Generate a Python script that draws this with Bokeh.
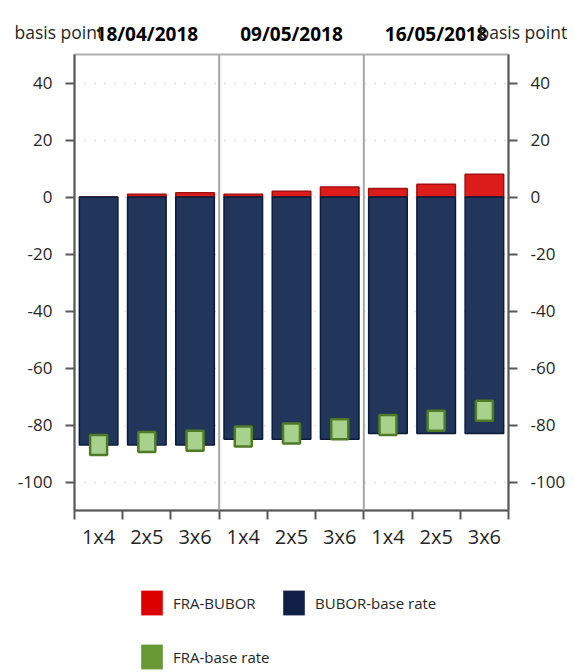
from bokeh.plotting import figure
from bokeh.layouts import column
from bokeh.models import (Range1d, FixedTicker, LinearAxis, Span, Legend,
                          LegendItem, ColumnDataSource)
from bokeh.core.properties import value
from bokeh.embed import file_html
from bokeh.resources import INLINE

# ---- data ----
dates = ["18/04/2018", "09/05/2018", "16/05/2018"]
tenors = ["1x4", "2x5", "3x6"]
bubor_base = [-87, -87, -87, -85, -85, -85, -83, -83, -83]
fra_bubor = [0, 1, 1.5, 1, 2, 3.5, 3, 4.5, 8]
fra_base = [-87, -86, -85.5, -84, -83, -81.5, -80, -78.5, -75]
y_ticks = [-100, -80, -60, -40, -20, 0, 20, 40]
series_names = ["FRA-BUBOR", "BUBOR-base rate", "FRA-base rate"]
axis_title = "basis point"

labels = [t for d in dates for t in tenors]
n = len(labels)
xs = [i + 0.5 for i in range(n)]
zeros = [0] * n
src = ColumnDataSource(dict(x=xs, base=bubor_base, spread=fra_bubor, fra=fra_base, zero=zeros))

FONT = "Open Sans"
AX = "#595959"
W = 575
TOPH = 50
LEFT, FW, TOP, FH = 74, 434, 54 - TOPH, 456
RIGHT = W - LEFT - FW
PX = FW / n  # pixels per category

# ---------------- main chart ----------------
p = figure(x_range=Range1d(0, n), y_range=Range1d(-110, 50),
           output_backend="svg", toolbar_location=None,
           frame_width=FW, frame_height=FH, frame_align=False,
           min_border_left=LEFT, min_border_right=RIGHT, min_border_top=TOP, min_border_bottom=50)
p.outline_line_color = "#b0b0b0"
p.outline_line_width = 2

p.xgrid.grid_line_color = None
p.ygrid.ticker = FixedTicker(ticks=y_ticks)
p.ygrid.grid_line_color = "#bfbfbf"
p.ygrid.grid_line_dash = "1 9"
p.ygrid.grid_line_width = 1.5

p.vbar(x="x", bottom="zero", top="spread", width=0.8, source=src,
       fill_color="#dd1c1c", line_color="#a31010", line_width=1.5)
p.vbar(x="x", bottom="zero", top="base", width=0.8, source=src,
       fill_color="#22355a", line_color="#0e1a3a", line_width=1.5)
p.rect(x="x", y="fra", width=17, height=20, width_units="screen", height_units="screen",
       source=src, fill_color="#a9d18e", line_color="#4f7a28", line_width=2.5)

for loc in [3, 6]:
    p.add_layout(Span(location=loc, dimension="height", line_color="#a6a6a6", line_width=2))

def style_y(ax):
    ax.ticker = FixedTicker(ticks=y_ticks)
    ax.major_label_overrides = {t: str(t) for t in y_ticks}
    ax.axis_line_color = AX
    ax.axis_line_width = 2
    ax.major_tick_line_color = AX
    ax.major_tick_line_width = 2
    ax.major_tick_in = 0
    ax.major_tick_out = 9
    ax.minor_tick_line_color = None
    ax.major_label_standoff = 13
    ax.major_label_text_font = FONT
    ax.major_label_text_font_size = "17px"
    ax.major_label_text_color = "#262626"

style_y(p.yaxis[0])
ry = LinearAxis()
style_y(ry)
p.add_layout(ry, "right")

xa = p.xaxis[0]
xa.ticker = FixedTicker(ticks=xs, minor_ticks=list(range(n + 1)))
xa.major_label_overrides = {x: l for x, l in zip(xs, labels)}
xa.axis_line_color = AX
xa.axis_line_width = 2
xa.major_tick_line_color = None
xa.major_tick_in = 0
xa.major_tick_out = 9
xa.minor_tick_line_color = AX
xa.minor_tick_line_width = 2
xa.minor_tick_in = 0
xa.minor_tick_out = 9
xa.major_label_standoff = 3
xa.major_label_text_font = FONT
xa.major_label_text_font_size = "20px"
xa.major_label_text_color = "#262626"

# ---------------- top texts ----------------
top = figure(x_range=Range1d(-LEFT / PX, n + RIGHT / PX), y_range=Range1d(0, TOPH),
             frame_width=W, frame_height=TOPH, min_border=0, frame_align=False,
             output_backend="svg", toolbar_location=None,
             x_axis_location=None, y_axis_location=None)
top.grid.grid_line_color = None
top.outline_line_color = None
date_src = ColumnDataSource(dict(x=[3 * i + 1.5 for i in range(len(dates))],
                                 y=[TOPH - 33] * len(dates), t=dates))
top.text(x="x", y="y", text="t", source=date_src, text_align="center",
         text_baseline="alphabetic", text_font=value(FONT), text_font_style="bold",
         text_font_size="19px", text_color="black")
unit_src = ColumnDataSource(dict(x=[(14 - LEFT) / PX, (478 - LEFT) / PX],
                                 y=[TOPH - 31] * 2, t=[axis_title, axis_title]))
top.text(x="x", y="y", text="t", source=unit_src, text_align="left",
         text_baseline="alphabetic", text_font=value(FONT),
         text_font_size="17.5px", text_color="#262626")

# ---------------- legend ----------------
LEGH = 112
lg = figure(x_range=Range1d(0, W), y_range=Range1d(0, LEGH),
            frame_width=W, frame_height=LEGH, min_border=0, frame_align=False,
            output_backend="svg", toolbar_location=None,
            x_axis_location=None, y_axis_location=None)
lg.grid.grid_line_color = None
lg.outline_line_color = None
nan = float("nan")
swatch_colors = ["#dd0000", "#0f1f45", "#669933"]
rends = []
for c in swatch_colors:
    s = ColumnDataSource(dict(x=[nan], top=[nan]))
    rends.append(lg.vbar(x="x", top="top", width=1, source=s, fill_color=c, line_alpha=0))

common = dict(glyph_width=27, glyph_height=31, label_standoff=8, spacing=23,
              padding=0, margin=0, border_line_color=None, background_fill_alpha=0,
              label_text_font=FONT, label_text_font_size="15px", label_text_color="#262626")
legA = Legend(items=[LegendItem(label=series_names[0], renderers=[rends[0]], index=0),
                     LegendItem(label=series_names[2], renderers=[rends[2]], index=0)],
              orientation="vertical", location=(138, 0), **common)
legB = Legend(items=[LegendItem(label=series_names[1], renderers=[rends[1]], index=0)],
              orientation="vertical", location=(280, 54), **common)
lg.add_layout(legA, "center")
lg.add_layout(legB, "center")

page = column(top, p, lg, spacing=0)
open("out.html", "w").write(file_html(page, INLINE))
